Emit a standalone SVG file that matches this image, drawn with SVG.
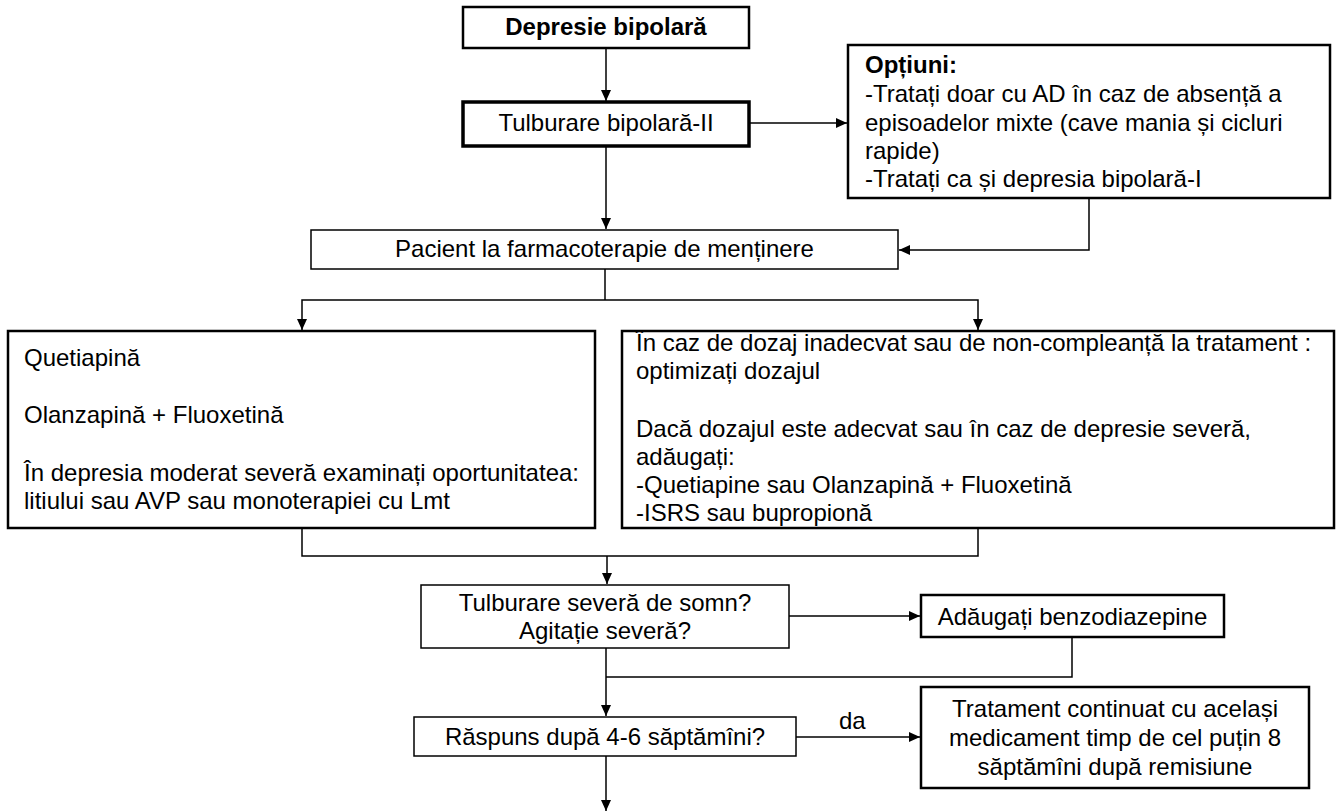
<svg xmlns="http://www.w3.org/2000/svg" width="1344" height="812" viewBox="0 0 1344 812">
  <defs>
    <marker id="arrow" viewBox="0 0 11 10" refX="11" refY="5" markerWidth="11" markerHeight="10" markerUnits="userSpaceOnUse" orient="auto">
      <path d="M0,0 L11,5 L0,10 z" fill="#000"/>
    </marker>
    <style>
      text { font-family: "Liberation Sans", Arial, sans-serif; font-size: 24px; fill: #000; }
      .b { font-weight: bold; }
      .c { text-anchor: middle; }
      .box { fill: #fff; stroke: #000; }
      .thin { stroke-width: 1.5; }
      .mid { stroke-width: 2.5; }
      .thick { stroke-width: 3.5; }
      .link { fill: none; stroke: #000; stroke-width: 1.5; }
    </style>
  </defs>

  <rect width="1344" height="812" fill="#fff"/>

  <!-- connectors: elbow links attached at box side midpoints -->
  <g id="connectors">
    <path class="link" d="M606,48 V101" marker-end="url(#arrow)"/>
    <path class="link" d="M749,123 H847" marker-end="url(#arrow)"/>
    <path class="link" d="M606,146 V229" marker-end="url(#arrow)"/>
    <path class="link" d="M1089,198 V250 H899" marker-end="url(#arrow)"/>
    <path class="link" d="M605,269 V300"/>
    <path class="link" d="M605,300 H302 V330" marker-end="url(#arrow)"/>
    <path class="link" d="M605,300 H978 V330" marker-end="url(#arrow)"/>
    <path class="link" d="M302,528 V556 H978 V528"/>
    <path class="link" d="M607,556 V584" marker-end="url(#arrow)"/>
    <path class="link" d="M789,616 H920" marker-end="url(#arrow)"/>
    <path class="link" d="M606,648 V716" marker-end="url(#arrow)"/>
    <path class="link" d="M1072,637 V677 H606"/>
    <path class="link" d="M796,737 H920" marker-end="url(#arrow)"/>
    <text x="839" y="729">da</text>
    <path class="link" d="M606,756 V811" marker-end="url(#arrow)"/>
  </g>

  <g id="depresie-bipolara">
    <rect class="box mid" x="463" y="7" width="286" height="41"/>
    <text class="b c" x="606" y="35">Depresie bipolară</text>
  </g>

  <g id="tulburare-bipolara-ii">
    <rect class="box thick" x="463" y="102" width="286" height="44"/>
    <text class="c" x="606" y="131">Tulburare bipolară-II</text>
  </g>

  <g id="optiuni">
    <rect class="box mid" x="848" y="45" width="482" height="153"/>
    <text class="b" x="865" y="73">Opțiuni:</text>
    <text x="865" y="102">-Tratați doar cu AD în caz de absență a</text>
    <text x="865" y="131">episoadelor mixte (cave mania și cicluri</text>
    <text x="865" y="159">rapide)</text>
    <text x="865" y="187">-Tratați ca și depresia bipolară-I</text>
  </g>

  <g id="pacient-mentinere">
    <rect class="box thin" x="311" y="230" width="587" height="39"/>
    <text class="c" x="604.5" y="257">Pacient la farmacoterapie de menținere</text>
  </g>

  <g id="optiuni-terapie">
    <rect class="box mid" x="8" y="331" width="587" height="197"/>
    <text x="24" y="366">Quetiapină</text>
    <text x="24" y="423">Olanzapină + Fluoxetină</text>
    <text x="24" y="481">În depresia moderat severă examinați oportunitatea:</text>
    <text x="24" y="509">litiului sau AVP sau monoterapiei cu Lmt</text>
  </g>

  <g id="optimizare-dozaj">
    <rect class="box mid" x="622" y="331" width="712" height="197"/>
    <text x="636" y="351">În caz de dozaj inadecvat sau de non-compleanță la tratament :</text>
    <text x="636" y="379">optimizați dozajul</text>
    <text x="636" y="437">Dacă dozajul este adecvat sau în caz de depresie severă,</text>
    <text x="636" y="465">adăugați:</text>
    <text x="636" y="493">-Quetiapine sau Olanzapină + Fluoxetină</text>
    <text x="636" y="521">-ISRS sau bupropionă</text>
  </g>

  <g id="tulburare-somn">
    <rect class="box thin" x="421" y="585" width="368" height="63"/>
    <text class="c" x="605" y="611">Tulburare severă de somn?</text>
    <text class="c" x="605" y="639">Agitație severă?</text>
  </g>

  <g id="benzodiazepine">
    <rect class="box mid" x="921" y="595" width="303" height="42"/>
    <text class="c" x="1072.5" y="625">Adăugați benzodiazepine</text>
  </g>

  <g id="raspuns">
    <rect class="box thin" x="414" y="717" width="382" height="39"/>
    <text class="c" x="605" y="745">Răspuns după 4-6 săptămîni?</text>
  </g>

  <g id="tratament-continuat">
    <rect class="box mid" x="921" y="687" width="388" height="101"/>
    <text class="c" x="1115" y="717">Tratament continuat cu același</text>
    <text class="c" x="1115" y="746">medicament timp de cel puțin 8</text>
    <text class="c" x="1115" y="775">săptămîni după remisiune</text>
  </g>
</svg>
